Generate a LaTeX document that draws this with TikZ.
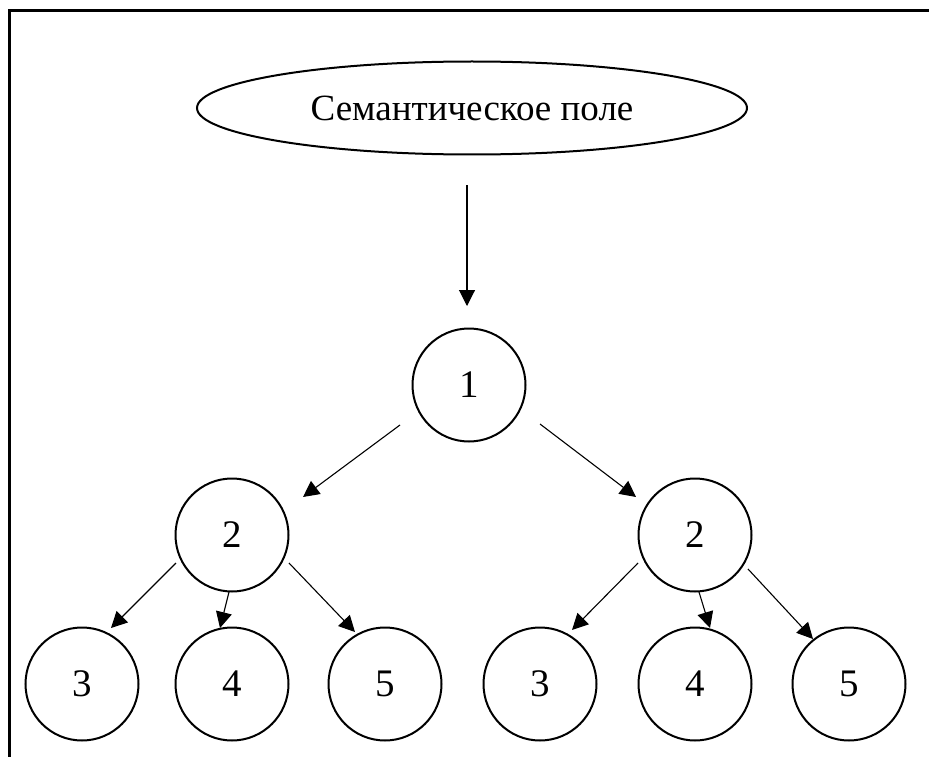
\documentclass[tikz,border=0pt]{standalone}
\usepackage{fontspec}
\setmainfont{Liberation Serif}
\usetikzlibrary{shapes.geometric,arrows.meta}
\begin{document}
\begin{tikzpicture}[x=1pt,y=-1pt,
  circ/.style={circle,draw,line width=2pt,minimum size=113pt,inner sep=0pt,font=\fontsize{39}{40}\selectfont},
  oval/.style={ellipse,draw,line width=2pt,minimum width=550pt,minimum height=93pt,inner sep=0pt,font=\fontsize{37}{40}\selectfont},
  arr/.style={line width=1.1pt,-{Triangle[length=16pt,width=16pt]}},
  frame/.style={line width=2.5pt}]
\useasboundingbox (0,0) rectangle (929,757);
\coordinate (fbl) at (9.5,757);
\coordinate (ftl) at (9.5,10.5);
\coordinate (ftr) at (929,10.5);
\draw[frame] (fbl) -- (ftl) -- (ftr);
\node[oval] (sem) at (472,108) {Семантическое поле};
\node[circ] (n1) at (469,385) {1};
\node[circ] (l2) at (232,535) {2};
\node[circ] (r2) at (695,535) {2};
\node[circ] (l3) at (82,684) {3};
\node[circ] (l4) at (232,684) {4};
\node[circ] (l5) at (385,684) {5};
\node[circ] (r3) at (540,684) {3};
\node[circ] (r4) at (695,684) {4};
\node[circ] (r5) at (849,684) {5};
% connector ends
\coordinate (a0s) at (467,185); \coordinate (a0e) at (467,306);
\coordinate (a1s) at (400,425); \coordinate (a1e) at (303,497);
\coordinate (a2s) at (540,424); \coordinate (a2e) at (636,497);
\coordinate (a3s) at (176,563); \coordinate (a3e) at (111,628);
\coordinate (a4s) at (229,592); \coordinate (a4e) at (220,628);
\coordinate (a5s) at (289,563); \coordinate (a5e) at (355,632);
\coordinate (a6s) at (638,563); \coordinate (a6e) at (572,630);
\coordinate (a7s) at (699,592); \coordinate (a7e) at (710,628);
\coordinate (a8s) at (748,569); \coordinate (a8e) at (813,639);
\draw[arr] (a0s) -- (a0e);
\draw[arr] (a1s) -- (a1e);
\draw[arr] (a2s) -- (a2e);
\draw[arr] (a3s) -- (a3e);
\draw[arr] (a4s) -- (a4e);
\draw[arr] (a5s) -- (a5e);
\draw[arr] (a6s) -- (a6e);
\draw[arr] (a7s) -- (a7e);
\draw[arr] (a8s) -- (a8e);
\end{tikzpicture}
\end{document}
